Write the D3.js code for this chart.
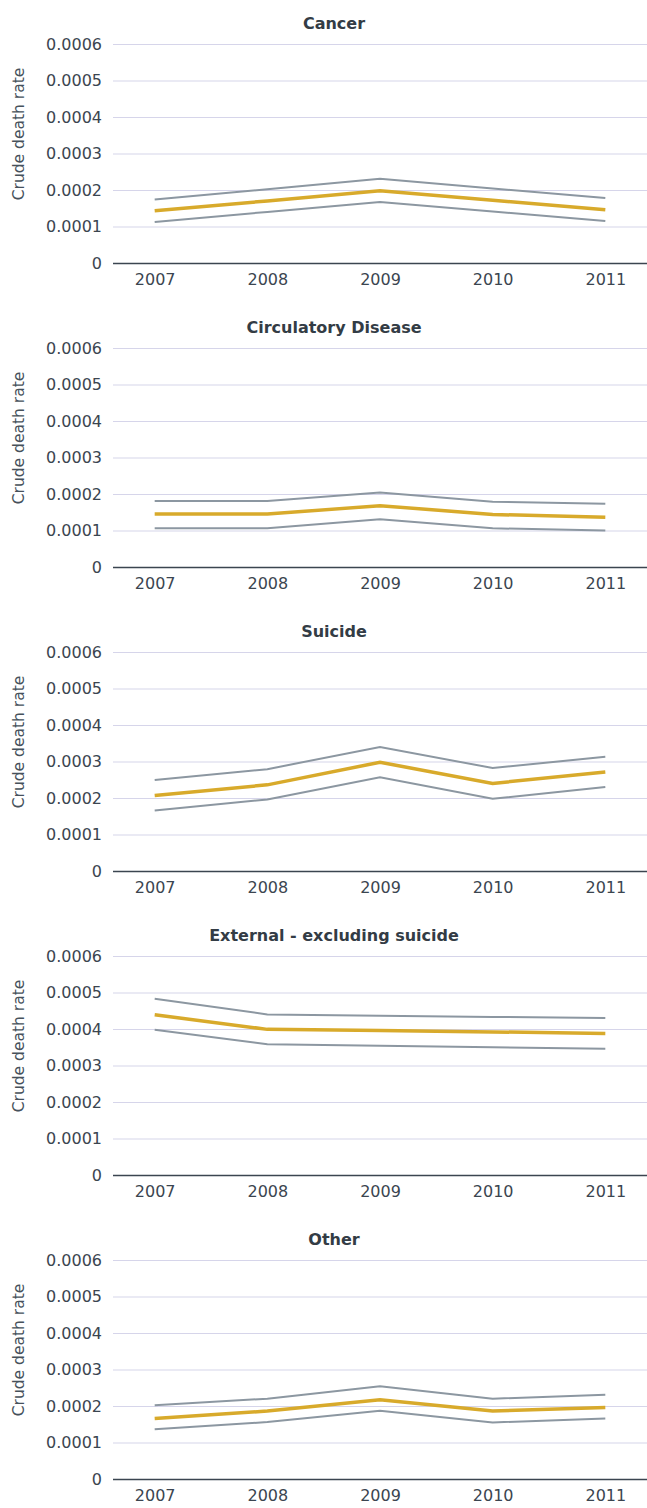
<!DOCTYPE html>
<html lang="en">
<head>
    <meta charset="UTF-8">
    <title>Crude death rate by cause</title>
    <script src="https://d3js.org/d3.v7.min.js"></script>
    <style>
        body { margin: 0; background: #fff; }
        svg text { font-family: "DejaVu Sans", sans-serif; }
        .title { font-weight: bold; font-size: 16px; fill: #333c45; }
        .tick text { font-size: 16px; fill: #3b4550; }
        .ytitle { font-size: 15.5px; fill: #46515b; }
    </style>
</head>
<body>
<svg width="647" height="1508"></svg>

<script>
    // years along the x axis
    const years = ["2007", "2008", "2009", "2010", "2011"];
    const yTicks = [0, 0.0001, 0.0002, 0.0003, 0.0004, 0.0005, 0.0006];
    const causes = ["Cancer", "Circulatory Disease", "Suicide", "External - excluding suicide", "Other"];

    // crude death rate, lower bound, upper bound
    const cancerRate  = [0.000143, 0.000170, 0.000198, 0.000172, 0.000146];
    const cancerLow   = [0.000112, 0.000140, 0.000167, 0.000141, 0.000115];
    const cancerHigh  = [0.000174, 0.000202, 0.000231, 0.000204, 0.000178];

    const circRate    = [0.000145, 0.000145, 0.000168, 0.000144, 0.000136];
    const circLow     = [0.000106, 0.000106, 0.000131, 0.000106, 0.000100];
    const circHigh    = [0.000181, 0.000181, 0.000204, 0.000179, 0.000173];

    const suicideRate = [0.000207, 0.000236, 0.000298, 0.000240, 0.000271];
    const suicideLow  = [0.000166, 0.000196, 0.000257, 0.000198, 0.000230];
    const suicideHigh = [0.000249, 0.000279, 0.000340, 0.000282, 0.000313];

    const extRate     = [0.000439, 0.000399, 0.000396, 0.000392, 0.000388];
    const extLow      = [0.000398, 0.000358, 0.000354, 0.000350, 0.000346];
    const extHigh     = [0.000483, 0.000440, 0.000436, 0.000433, 0.000430];

    const otherRate   = [0.000166, 0.000186, 0.000217, 0.000186, 0.000196];
    const otherLow    = [0.000136, 0.000156, 0.000187, 0.000155, 0.000166];
    const otherHigh   = [0.000202, 0.000220, 0.000254, 0.000220, 0.000231];

    const panels = [
        {rate: cancerRate, low: cancerLow, high: cancerHigh},
        {rate: circRate, low: circLow, high: circHigh},
        {rate: suicideRate, low: suicideLow, high: suicideHigh},
        {rate: extRate, low: extLow, high: extHigh},
        {rate: otherRate, low: otherLow, high: otherHigh}
    ];

    const svg = d3.select("svg");
    const left = 113, right = 647;
    const plotH = 219, panelStep = 304, firstTop = 44;

    const x = d3.scalePoint().domain(years).range([left, right]).padding(0.37);
    const y = d3.scaleLinear().domain([0, 0.0006]).range([plotH, 0]);

    const line = d3.line()
        .x((d, i) => x(years[i]))
        .y(d => y(d));

    panels.forEach(function (p, k) {
        const g = svg.append("g")
            .attr("transform", "translate(0," + (firstTop + k * panelStep) + ")");

        // title
        g.append("text").attr("class", "title")
            .attr("x", 334).attr("y", -15)
            .attr("text-anchor", "middle")
            .text(causes[k]);

        // y axis + gridlines
        const yAxis = g.append("g")
            .attr("transform", "translate(" + left + ",0)")
            .call(d3.axisLeft(y).tickValues(yTicks)
                .tickSize(-(right - left)).tickPadding(11)
                .tickFormat(d => d === 0 ? "0" : d.toFixed(4)));
        yAxis.select(".domain").remove();
        yAxis.selectAll(".tick line")
            .attr("stroke", d => d === 0 ? "#3b4550" : "#d6d5ea")
            .attr("stroke-width", d => d === 0 ? 1.5 : 1.2);

        // x axis labels
        const xAxis = g.append("g")
            .attr("transform", "translate(0," + plotH + ")")
            .call(d3.axisBottom(x).tickSize(0).tickPadding(11));
        xAxis.select(".domain").remove();

        // y axis title
        g.append("text").attr("class", "ytitle")
            .attr("transform", "translate(24," + 90 + ") rotate(-90)")
            .attr("text-anchor", "middle")
            .text("Crude death rate");

        // confidence bounds
        [p.high, p.low].forEach(function (s) {
            g.append("path")
                .datum(s)
                .attr("d", line)
                .attr("fill", "none")
                .attr("stroke", "#8c97a1")
                .attr("stroke-width", 2);
        });

        // central estimate
        g.append("path")
            .datum(p.rate)
            .attr("d", line)
            .attr("fill", "none")
            .attr("stroke", "#d8aa2b")
            .attr("stroke-width", 3.5);
    });
</script>
</body>
</html>
